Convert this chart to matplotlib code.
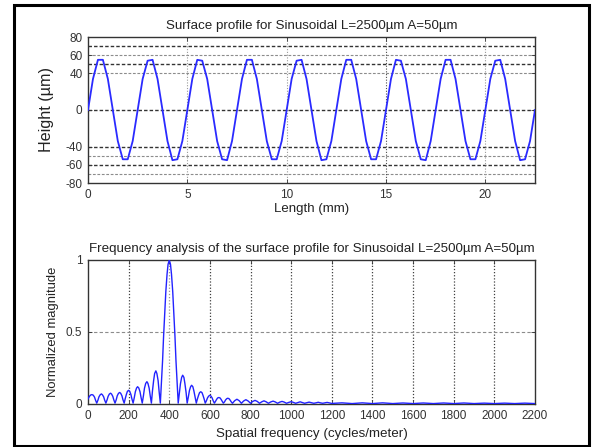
import matplotlib
matplotlib.use("Agg")
import matplotlib.pyplot as plt
from matplotlib.patches import Rectangle

plt.rcParams['font.family'] = ['Liberation Sans', 'DejaVu Sans']
plt.rcParams['axes.unicode_minus'] = False

# ── Data: surface profile (sampled every 0.25 mm) ───────────────────────────

length_mm = [
    0.00, 0.25, 0.50, 0.75, 1.00, 1.25, 1.50, 1.75, 2.00, 2.25,
    2.50, 2.75, 3.00, 3.25, 3.50, 3.75, 4.00, 4.25, 4.50, 4.75,
    5.00, 5.25, 5.50, 5.75, 6.00, 6.25, 6.50, 6.75, 7.00, 7.25,
    7.50, 7.75, 8.00, 8.25, 8.50, 8.75, 9.00, 9.25, 9.50, 9.75,
    10.00, 10.25, 10.50, 10.75, 11.00, 11.25, 11.50, 11.75, 12.00, 12.25,
    12.50, 12.75, 13.00, 13.25, 13.50, 13.75, 14.00, 14.25, 14.50, 14.75,
    15.00, 15.25, 15.50, 15.75, 16.00, 16.25, 16.50, 16.75, 17.00, 17.25,
    17.50, 17.75, 18.00, 18.25, 18.50, 18.75, 19.00, 19.25, 19.50, 19.75,
    20.00, 20.25, 20.50, 20.75, 21.00, 21.25, 21.50, 21.75, 22.00, 22.25,
    22.50,
]
height_um = [
    0, 34, 55, 55, 34, 0, -34, -54, -54, -34,
    0, 34, 54, 55, 34, 0, -34, -55, -54, -34,
    0, 34, 55, 54, 34, 0, -34, -54, -55, -34,
    0, 34, 55, 55, 34, 0, -34, -54, -54, -34,
    0, 34, 54, 55, 34, 0, -34, -55, -54, -34,
    0, 34, 55, 55, 34, 0, -34, -54, -54, -34,
    0, 34, 55, 54, 34, 0, -34, -54, -55, -34,
    0, 34, 55, 55, 34, 0, -34, -54, -54, -34,
    0, 34, 54, 55, 34, 0, -34, -55, -54, -34,
    0,
]

# reference levels in the profile plot
dark_levels = [70, 50, 0, -40, -60]
light_levels = [60, 40, -50, -70]

# ── Data: normalized spectrum (one row per lobe) ────────────────────────────

freq = [
    0, 5, 10, 15, 20, 26, 32, 37,
    43, 49, 54, 60, 66, 71, 77, 82,
    88, 94, 99, 105, 111, 116, 122, 127,
    133, 139, 144, 150, 156, 161, 167, 172,
    178, 183, 189, 194, 200, 205, 211, 216,
    222, 228, 233, 239, 244, 250, 256, 261,
    267, 273, 278, 284, 290, 295, 301, 306,
    312, 317, 323, 328, 334, 339, 345, 350,
    356, 361, 367, 372, 378, 383, 389, 394, 400, 406, 411, 417, 422, 428, 433, 439,
    444, 450, 455, 461, 466, 472, 477, 483,
    488, 494, 499, 505, 510, 516, 521, 527,
    533, 538, 544, 549, 555, 561, 566, 572,
    577, 583, 588, 594, 600, 605, 611, 616,
    622, 627, 633, 638, 644, 650, 655, 661,
    666, 672, 677, 683, 688, 694, 699, 705,
    711, 722, 733, 744,
    755, 766, 777, 788,
    800, 811, 822, 833,
    844, 855, 866, 877,
    888, 899, 911, 922,
    933, 944, 955, 966,
    977, 988, 1000, 1011,
    1022, 1033, 1044, 1055,
    1066, 1077, 1088, 1099,
    1111, 1122, 1133, 1144,
    1155, 1166, 1177, 1188,
    1200, 1250, 1300, 1350, 1400, 1450, 1500, 1550, 1600, 1650,
    1700, 1750, 1800, 1850, 1900, 1950, 2000, 2050, 2100, 2150, 2200,
]
magnitude = [
    0.035, 0.048, 0.058, 0.064, 0.065, 0.061, 0.048, 0.027,
    0.006, 0.027, 0.050, 0.064, 0.070, 0.064, 0.050, 0.027,
    0.006, 0.029, 0.053, 0.069, 0.075, 0.069, 0.053, 0.029,
    0.006, 0.030, 0.057, 0.074, 0.080, 0.074, 0.057, 0.030,
    0.006, 0.036, 0.067, 0.088, 0.095, 0.088, 0.067, 0.036,
    0.006, 0.046, 0.085, 0.111, 0.120, 0.111, 0.085, 0.046,
    0.006, 0.059, 0.110, 0.143, 0.155, 0.143, 0.110, 0.059,
    0.006, 0.087, 0.163, 0.212, 0.230, 0.212, 0.163, 0.087,
    0.006, 0.14, 0.30, 0.47, 0.64, 0.78, 0.90, 0.97, 1.00, 0.97, 0.90, 0.78, 0.64, 0.47, 0.30, 0.14,
    0.006, 0.077, 0.141, 0.185, 0.200, 0.185, 0.141, 0.077,
    0.006, 0.050, 0.092, 0.120, 0.130, 0.120, 0.092, 0.050,
    0.006, 0.033, 0.060, 0.079, 0.085, 0.079, 0.060, 0.033,
    0.006, 0.023, 0.042, 0.055, 0.060, 0.055, 0.042, 0.023,
    0.006, 0.017, 0.032, 0.042, 0.045, 0.042, 0.032, 0.017,
    0.006, 0.015, 0.028, 0.037, 0.040, 0.037, 0.028, 0.015,
    0.005, 0.023, 0.033, 0.023,
    0.005, 0.021, 0.030, 0.021,
    0.005, 0.018, 0.025, 0.018,
    0.005, 0.015, 0.022, 0.015,
    0.005, 0.014, 0.020, 0.014,
    0.005, 0.013, 0.018, 0.013,
    0.005, 0.011, 0.016, 0.011,
    0.005, 0.010, 0.015, 0.010,
    0.005, 0.009, 0.013, 0.009,
    0.005, 0.008, 0.012, 0.008,
    0.005, 0.008, 0.011, 0.008,
    0.004, 0.008, 0.003, 0.008, 0.003, 0.008, 0.003, 0.007, 0.003, 0.007,
    0.003, 0.007, 0.003, 0.007, 0.003, 0.006, 0.003, 0.006, 0.003, 0.006, 0.003,
]

profile_xticks = [0, 5, 10, 15, 20]
profile_yticks = [-80, -60, -40, 0, 40, 60, 80]
freq_xticks = [0, 200, 400, 600, 800, 1000, 1200, 1400, 1600, 1800, 2000, 2200]
freq_yticks = [0, 0.5, 1]
freq_yticklabels = ['0', '0.5', '1']

title_top = "Surface profile for Sinusoidal L=2500\u00b5m A=50\u00b5m"
title_bot = "Frequency analysis of the surface profile for Sinusoidal L=2500\u00b5m A=50\u00b5m"

W, H = 592, 447
fig = plt.figure(figsize=(W / 100, H / 100), dpi=100)
fig.patch.set_facecolor('white')

def frac(left, top, right, bottom):
    return [left / W, 1 - bottom / H, (right - left) / W, (bottom - top) / H]

def style_axes(ax):
    for s in ax.spines.values():
        s.set_color('#333333')
        s.set_linewidth(1.0)
    ax.tick_params(direction='in', length=3, width=0.6, colors='#333333',
                   labelsize=8.5, top=True, right=True, pad=4)

# ── Top: surface profile ─────────────────────────────────────────────────────

ax1 = fig.add_axes(frac(88, 37, 535, 183))
for lv in light_levels:
    ax1.axhline(lv, color='0.55', lw=0.8, ls=(0, (2.5, 1.5)), zorder=1)
for lv in dark_levels:
    ax1.axhline(lv, color='0.2', lw=1.0, ls=(0, (2.5, 1.5)), zorder=1)
for xv in profile_xticks[1:]:
    ax1.axvline(xv, color='0.3' if xv == 15 else '0.6', lw=0.8,
                ls=(0, (1, 1.5)), zorder=1)
ax1.plot(length_mm, height_um, color='#2a2aff', lw=1.3, zorder=3)
ax1.set_xlim(0, 22.5)
ax1.set_ylim(-80, 80)
ax1.set_xticks(profile_xticks)
ax1.set_yticks(profile_yticks)
style_axes(ax1)
ax1.set_title(title_top, fontsize=9.6, color='#222222', pad=6)
ax1.set_xlabel("Length (mm)", fontsize=9.5, color='#222222', labelpad=2)
ax1.set_ylabel("Height (\u00b5m)", fontsize=11.6, color='#222222', labelpad=8)

# ── Bottom: spectrum ─────────────────────────────────────────────────────────

ax2 = fig.add_axes(frac(88, 260, 535, 404))
for xv in freq_xticks[1:-1]:
    ax2.axvline(xv, color='0.6' if xv == 400 else '0.25', lw=0.9,
                ls=(0, (1, 1.5)), zorder=1)
ax2.axhline(0.5, color='0.55', lw=0.8, ls=(0, (3, 2)), zorder=1)
ax2.plot(freq, magnitude, color='#2222ff', lw=1.0, zorder=3)
ax2.set_xlim(0, 2200)
ax2.set_ylim(0, 1)
ax2.set_xticks(freq_xticks)
ax2.set_yticks(freq_yticks)
ax2.set_yticklabels(freq_yticklabels)
style_axes(ax2)
ax2.set_title(title_bot, fontsize=9.6, color='#222222', pad=6)
ax2.set_xlabel("Spatial frequency (cycles/meter)", fontsize=9.6, color='#222222', labelpad=5)
ax2.set_ylabel("Normalized magnitude", fontsize=9.4, color='#222222', labelpad=5)

# outer frame
fig.patches.append(Rectangle((13.5 / W, 1.5 / H), 575 / W, 441 / H,
                             transform=fig.transFigure, fill=False,
                             edgecolor='black', lw=2.2))

fig.savefig("out.png", dpi=100)
